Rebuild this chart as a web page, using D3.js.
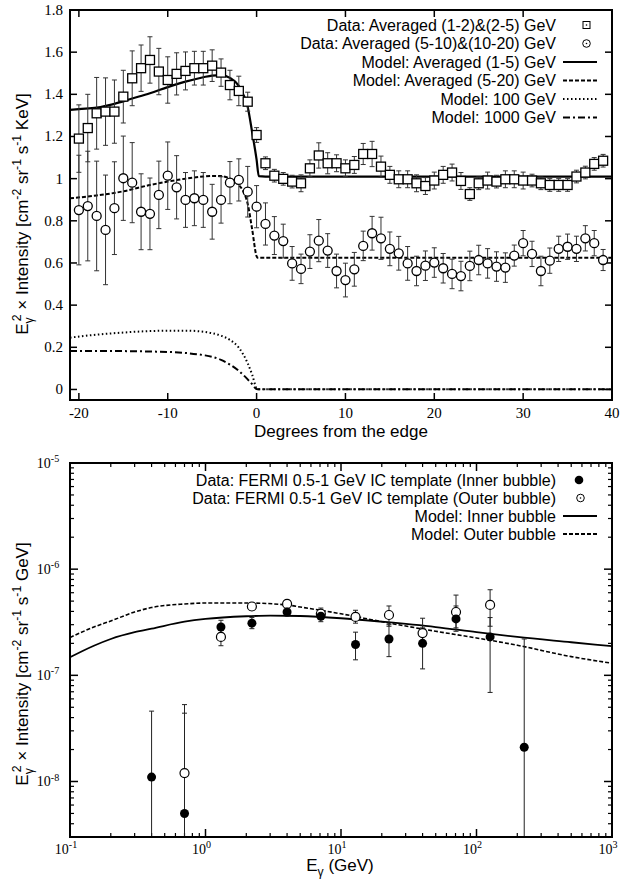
<!DOCTYPE html>
<html>
<head>
<meta charset="utf-8">
<script src="https://cdn.jsdelivr.net/npm/d3@7"></script>
<style>
body { margin: 0; background: #fff; }
text { fill: #000; }
</style>
</head>
<body>
<svg id="chart" width="622" height="884"></svg>
<script>
// ---------- top panel data: profile across the bubble edge ----------
var degrees = [-20,-19,-18,-17,-16,-15,-14,-13,-12,-11,-10,-9,-8,-7,-6,-5,-4,-3,-2,-1,
  0,1,2,3,4,5,6,7,8,9,10,11,12,13,14,15,16,17,18,19,
  20,21,22,23,24,25,26,27,28,29,30,31,32,33,34,35,36,37,38,39];

var lowVals = [1.19,1.24,1.31,1.318,1.318,1.389,1.476,1.524,1.563,1.508,1.468,1.497,1.511,1.524,1.524,1.536,1.503,1.444,1.416,1.365,
  1.207,1.073,1.014,0.999,0.986,0.978,1.049,1.11,1.073,1.073,1.049,1.065,1.117,1.117,1.057,1.018,0.997,0.997,0.978,0.965,
  0.991,1.018,1.029,0.989,0.927,0.978,0.991,0.986,0.997,0.997,0.991,0.991,0.978,0.970,0.970,0.970,1.010,1.029,1.070,1.085];
var lowErr = [0.16,0.16,0.17,0.16,0.15,0.125,0.13,0.11,0.11,0.11,0.11,0.1,0.09,0.08,0.08,0.075,0.065,0.07,0.07,0.045,
  0.035,0.03,0.03,0.03,0.03,0.04,0.04,0.06,0.05,0.04,0.04,0.04,0.05,0.06,0.05,0.04,0.04,0.04,0.04,0.04,
  0.04,0.04,0.04,0.04,0.03,0.03,0.04,0.03,0.04,0.04,0.04,0.03,0.03,0.03,0.03,0.03,0.03,0.03,0.03,0.03];

var highVals = [0.851,0.870,0.823,0.757,0.860,1.002,0.981,0.843,0.833,0.923,1.014,0.959,0.899,0.907,0.899,0.843,0.899,0.981,0.994,0.938,
  0.867,0.785,0.730,0.704,0.598,0.572,0.654,0.706,0.659,0.562,0.519,0.570,0.681,0.741,0.717,0.667,0.646,0.598,0.562,0.587,
  0.602,0.575,0.548,0.538,0.586,0.614,0.598,0.583,0.578,0.635,0.694,0.643,0.562,0.611,0.667,0.677,0.667,0.717,0.694,0.614];
var highErr = [0.26,0.26,0.26,0.26,0.22,0.2,0.19,0.18,0.17,0.16,0.16,0.15,0.13,0.13,0.13,0.13,0.11,0.1,0.1,0.12,
  0.1,0.1,0.09,0.08,0.08,0.07,0.08,0.1,0.08,0.08,0.08,0.08,0.07,0.08,0.1,0.08,0.08,0.08,0.07,0.07,
  0.07,0.07,0.07,0.07,0.07,0.07,0.07,0.07,0.07,0.05,0.06,0.06,0.07,0.06,0.06,0.06,0.06,0.06,0.06,0.05];

// model curves [degree, value]
var model1to5 = [[-21,1.326],[-20,1.33],[-18,1.337],[-16,1.355],[-14,1.38],[-12,1.405],[-10,1.434],[-8,1.46],[-6,1.481],
  [-5,1.489],[-4,1.491],[-3,1.478],[-2,1.44],[-1.5,1.40],[-1,1.34],[-0.5,1.22],[0,1.09],[0.25,1.012],[1,1.01],[40,1.01]];
var model5to20 = [[-21,0.907],[-18,0.92],[-15,0.94],[-12,0.97],[-10,0.986],[-8,1.0],[-6,1.01],[-5,1.013],[-4,1.012],
  [-3,1.0],[-2,0.97],[-1.5,0.94],[-1,0.88],[-0.5,0.76],[0,0.632],[0.1,0.625],[1,0.625],[40,0.625]];
var model100 = [[-21,0.246],[-18,0.26],[-15,0.27],[-12,0.277],[-10,0.279],[-8,0.279],[-6,0.274],[-5,0.267],[-4,0.255],
  [-3,0.235],[-2,0.198],[-1,0.124],[-0.5,0.07],[0,0.006],[0.2,0.001],[1,0.001],[40,0.001]];
var model1000 = [[-21,0.183],[-18,0.183],[-15,0.182],[-12,0.18],[-10,0.178],[-8,0.173],[-6,0.163],[-5,0.155],[-4,0.14],
  [-3,0.118],[-2,0.088],[-1,0.048],[-0.5,0.025],[0,0.002],[0.2,0.001],[1,0.001],[40,0.001]];

var topYTicks = [0, 0.2, 0.4, 0.6, 0.8, 1, 1.2, 1.4, 1.6, 1.8];
var topXTicks = [-20, -10, 0, 10, 20, 30, 40];

// ---------- bottom panel data: spectrum ----------
var energies = [0.4, 0.7, 1.3, 2.2, 4.0, 7.1, 12.8, 22.6, 40, 70.6, 126, 225];
var innerVals = [1.1e-8, 5e-9, 2.85e-7, 3.1e-7, 3.95e-7, 3.6e-7, 1.95e-7, 2.2e-7, 2.0e-7, 3.4e-7, 2.3e-7, 2.1e-8];
var innerLo   = [1e-10, 1e-10, 2.5e-7, 2.75e-7, 3.6e-7, 3.2e-7, 1.4e-7, 1.5e-7, 1.15e-7, 2.6e-7, 6.9e-8, 1e-10];
var innerHi   = [4.6e-8, 4.4e-8, 3.3e-7, 3.5e-7, 4.3e-7, 4.1e-7, 2.55e-7, 3.0e-7, 2.8e-7, 4.5e-7, 3.5e-7, 2.2e-7];

var outerEnergies = [0.7, 1.3, 2.2, 4.0, 7.1, 12.8, 22.6, 40, 70.6, 126];
var outerVals = [1.2e-8, 2.3e-7, 4.45e-7, 4.7e-7, 3.8e-7, 3.55e-7, 3.7e-7, 2.5e-7, 3.95e-7, 4.6e-7];
var outerLo   = [1e-10, 1.9e-7, 4.1e-7, 4.35e-7, 3.4e-7, 3.1e-7, 2.9e-7, 1.9e-7, 2.8e-7, 2.9e-7];
var outerHi   = [5.3e-8, 2.7e-7, 4.8e-7, 5.0e-7, 4.3e-7, 4.1e-7, 4.5e-7, 3.45e-7, 5.7e-7, 6.4e-7];

var modelInner = [[0.1,1.48e-7],[0.15,1.9e-7],[0.2,2.2e-7],[0.3,2.55e-7],[0.4,2.75e-7],[0.7,3.2e-7],[1,3.4e-7],
  [2,3.6e-7],[3,3.65e-7],[5,3.62e-7],[10,3.45e-7],[20,3.2e-7],[50,2.85e-7],[100,2.55e-7],[200,2.3e-7],[500,2.05e-7],[1000,1.88e-7]];
var modelOuter = [[0.1,2.27e-7],[0.15,2.85e-7],[0.2,3.25e-7],[0.3,3.95e-7],[0.4,4.35e-7],[0.7,4.7e-7],[1,4.8e-7],
  [2,4.8e-7],[4,4.6e-7],[5,4.4e-7],[10,3.8e-7],[20,3.2e-7],[50,2.6e-7],[100,2.25e-7],[200,1.92e-7],[500,1.5e-7],[1000,1.3e-7]];

var botXTicks = [-1, 0, 1, 2, 3];   // exponents
var botYTicks = [-8, -7, -6, -5];

var svg = d3.select('#chart');

var serif = '"Liberation Serif", "Times New Roman", serif';
var sans = '"Liberation Sans", Arial, Helvetica, sans-serif';

// text with sup / sub parts
function richText(sel, parts, size) {
  var cur = 0;
  parts.forEach(function(p) {
    var kind = p[1] || 'n';
    var target = kind === 'sup' ? -size * 0.42 : kind === 'sub' ? size * 0.32 : 0;
    var t = sel.append('tspan')
      .attr('dy', target - cur)
      .style('font-size', (kind === 'n' ? size : size * 0.72) + 'px')
      .text(p[0]);
    if (p[2]) t.attr('dx', p[2]);
    cur = target;
  });
}

function errBars(g, xs, lo, hi, xsc, ysc, cap, color) {
  xs.forEach(function(x, i) {
    var y1 = ysc(lo[i]), y2 = ysc(hi[i]), px = xsc(x);
    g.append('line').attr('x1', px).attr('x2', px).attr('y1', y1).attr('y2', y2).attr('stroke', color).attr('stroke-width', 1);
    [y1, y2].forEach(function(yy) {
      g.append('line').attr('x1', px - cap).attr('x2', px + cap).attr('y1', yy).attr('y2', yy).attr('stroke', color).attr('stroke-width', 1);
    });
  });
}

// ================= TOP PANEL =================
var T = {l: 70, r: 612, t: 10, b: 400};
var tx = d3.scaleLinear().domain([-21, 40]).range([T.l, T.r]);
var ty = d3.scaleLinear().domain([-0.05, 1.8]).range([T.b, T.t]);

var topPanel = svg.append('g');
topPanel.append('clipPath').attr('id', 'clipTop')
  .append('rect').attr('x', T.l).attr('y', T.t).attr('width', T.r - T.l).attr('height', T.b - T.t);

// ticks (inside, mirrored)
topYTicks.forEach(function(v) {
  topPanel.append('line').attr('x1', T.l).attr('x2', T.l + 7).attr('y1', ty(v)).attr('y2', ty(v)).attr('stroke', '#000').attr('stroke-width', 1.5);
  topPanel.append('line').attr('x1', T.r).attr('x2', T.r - 7).attr('y1', ty(v)).attr('y2', ty(v)).attr('stroke', '#000').attr('stroke-width', 1.5);
  topPanel.append('text').attr('x', T.l - 7).attr('y', ty(v) + 5)
    .attr('text-anchor', 'end').style('font-family', serif).style('font-size', '15px').text(v);
});
topXTicks.forEach(function(v) {
  topPanel.append('line').attr('x1', tx(v)).attr('x2', tx(v)).attr('y1', T.b).attr('y2', T.b - 7).attr('stroke', '#000').attr('stroke-width', 1.5);
  topPanel.append('line').attr('x1', tx(v)).attr('x2', tx(v)).attr('y1', T.t).attr('y2', T.t + 7).attr('stroke', '#000').attr('stroke-width', 1.5);
  topPanel.append('text').attr('x', tx(v)).attr('y', T.b + 18)
    .attr('text-anchor', 'middle').style('font-family', serif).style('font-size', '15px').text(v);
});

var plotTop = topPanel.append('g').attr('clip-path', 'url(#clipTop)');

var lineT = d3.line().x(function(d) { return tx(d[0]); }).y(function(d) { return ty(d[1]); }).curve(d3.curveMonotoneX);

var topModels = [
  {data: model1to5, dash: null, w: 2.2},
  {data: model5to20, dash: '4,2', w: 2},
  {data: model100, dash: '1.5,2.5', w: 2},
  {data: model1000, dash: '7,3,2,3', w: 2}
];
topModels.forEach(function(m) {
  plotTop.append('path').datum(m.data).attr('d', lineT)
    .attr('fill', 'none').attr('stroke', '#000').attr('stroke-width', m.w)
    .attr('stroke-dasharray', m.dash);
});

errBars(plotTop, degrees,
  lowVals.map(function(v, i) { return v - lowErr[i]; }),
  lowVals.map(function(v, i) { return v + lowErr[i]; }), tx, ty, 2.5, '#333');
errBars(plotTop, degrees,
  highVals.map(function(v, i) { return v - highErr[i]; }),
  highVals.map(function(v, i) { return v + highErr[i]; }), tx, ty, 2.5, '#333');

plotTop.selectAll('.sq').data(degrees).enter().append('rect')
  .attr('class', 'sq')
  .attr('x', function(d) { return tx(d) - 4.5; })
  .attr('y', function(d, i) { return ty(lowVals[i]) - 4.5; })
  .attr('width', 9).attr('height', 9)
  .attr('fill', '#fff').attr('stroke', '#000').attr('stroke-width', 1.3);

plotTop.selectAll('.ci').data(degrees).enter().append('circle')
  .attr('class', 'ci')
  .attr('cx', function(d) { return tx(d); })
  .attr('cy', function(d, i) { return ty(highVals[i]); })
  .attr('r', 4.5)
  .attr('fill', '#fff').attr('stroke', '#000').attr('stroke-width', 1.3);

topPanel.append('rect').attr('x', T.l).attr('y', T.t).attr('width', T.r - T.l).attr('height', T.b - T.t)
  .attr('fill', 'none').attr('stroke', '#000').attr('stroke-width', 2);

// legend
var topLegend = [
  {label: 'Data: Averaged (1-2)&(2-5) GeV', sym: 'sq'},
  {label: 'Data: Averaged (5-10)&(10-20) GeV', sym: 'ci'},
  {label: 'Model: Averaged (1-5) GeV', dash: null},
  {label: 'Model: Averaged (5-20) GeV', dash: '4,2'},
  {label: 'Model: 100 GeV', dash: '1.5,2.5'},
  {label: 'Model: 1000 GeV', dash: '7,3,2,3'}
];
topLegend.forEach(function(d, i) {
  var y = 25 + i * 18.5;
  topPanel.append('text').attr('x', 556).attr('y', y + 5.5).attr('text-anchor', 'end')
    .style('font-family', sans).style('font-size', '16px').text(d.label);
  if (d.sym === 'sq') {
    topPanel.append('rect').attr('x', 583).attr('y', y - 3.5).attr('width', 7).attr('height', 7)
      .attr('fill', 'none').attr('stroke', '#000').attr('stroke-width', 1);
    topPanel.append('circle').attr('cx', 586.5).attr('cy', y).attr('r', 0.8).attr('fill', '#000');
  } else if (d.sym === 'ci') {
    topPanel.append('circle').attr('cx', 586.5).attr('cy', y).attr('r', 3.8)
      .attr('fill', 'none').attr('stroke', '#000').attr('stroke-width', 1);
    topPanel.append('circle').attr('cx', 586.5).attr('cy', y).attr('r', 0.8).attr('fill', '#000');
  } else {
    topPanel.append('line').attr('x1', 563).attr('x2', 597).attr('y1', y).attr('y2', y)
      .attr('stroke', '#000').attr('stroke-width', 2).attr('stroke-dasharray', d.dash);
  }
});

// axis titles
topPanel.append('text').attr('x', 341).attr('y', 437).attr('text-anchor', 'middle')
  .style('font-family', sans).style('font-size', '17px').text('Degrees from the edge');

var tyl = topPanel.append('text').attr('text-anchor', 'middle')
  .attr('transform', 'translate(' + [28, 214] + ') rotate(-90)')
  .style('font-family', sans).style('font-size', '17px');
richText(tyl, [['E'], ['γ', 'sub'], ['2', 'sup', -4], [' × Intensity [cm'], ['-2', 'sup'], [' sr'], ['-1', 'sup'], [' s'], ['-1', 'sup'], [' KeV]']], 17);

// ================= BOTTOM PANEL =================
var B = {l: 70, r: 612, t: 463, b: 837};
var bx = d3.scaleLog().domain([0.1, 1000]).range([B.l, B.r]);
var by = d3.scaleLog().domain([3e-9, 1e-5]).range([B.b, B.t]);

var botPanel = svg.append('g');
botPanel.append('clipPath').attr('id', 'clipBot')
  .append('rect').attr('x', B.l).attr('y', B.t).attr('width', B.r - B.l).attr('height', B.b - B.t);

// minor + major ticks
botXTicks.forEach(function(e) {
  var v = Math.pow(10, e);
  botPanel.append('line').attr('x1', bx(v)).attr('x2', bx(v)).attr('y1', B.b).attr('y2', B.b - 8).attr('stroke', '#000').attr('stroke-width', 1.5);
  botPanel.append('line').attr('x1', bx(v)).attr('x2', bx(v)).attr('y1', B.t).attr('y2', B.t + 8).attr('stroke', '#000').attr('stroke-width', 1.5);
  var t = botPanel.append('text').attr('x', bx(v) - 4).attr('y', B.b + 17).attr('text-anchor', 'middle')
    .style('font-family', serif).style('font-size', '14px');
  richText(t, [['10'], [String(e), 'sup']], 14);
  if (e < 3) {
    [2, 3, 4, 5, 6, 7, 8, 9].forEach(function(k) {
      var m = k * v;
      botPanel.append('line').attr('x1', bx(m)).attr('x2', bx(m)).attr('y1', B.b).attr('y2', B.b - 4).attr('stroke', '#000').attr('stroke-width', 1.2);
      botPanel.append('line').attr('x1', bx(m)).attr('x2', bx(m)).attr('y1', B.t).attr('y2', B.t + 4).attr('stroke', '#000').attr('stroke-width', 1.2);
    });
  }
});
botYTicks.forEach(function(e) {
  var v = Math.pow(10, e);
  botPanel.append('line').attr('x1', B.l).attr('x2', B.l + 8).attr('y1', by(v)).attr('y2', by(v)).attr('stroke', '#000').attr('stroke-width', 1.5);
  botPanel.append('line').attr('x1', B.r).attr('x2', B.r - 8).attr('y1', by(v)).attr('y2', by(v)).attr('stroke', '#000').attr('stroke-width', 1.5);
  var t = botPanel.append('text').attr('x', B.l - 22).attr('y', by(v) + 5).attr('text-anchor', 'middle')
    .style('font-family', serif).style('font-size', '14px');
  richText(t, [['10'], [String(e), 'sup']], 14);
  [2, 3, 4, 5, 6, 7, 8, 9].forEach(function(k) {
    var m = k * v / 10;
    if (m < 3e-9 || m > 1e-5) return;
    botPanel.append('line').attr('x1', B.l).attr('x2', B.l + 4).attr('y1', by(m)).attr('y2', by(m)).attr('stroke', '#000').attr('stroke-width', 1.2);
    botPanel.append('line').attr('x1', B.r).attr('x2', B.r - 4).attr('y1', by(m)).attr('y2', by(m)).attr('stroke', '#000').attr('stroke-width', 1.2);
  });
});

var plotBot = botPanel.append('g').attr('clip-path', 'url(#clipBot)');

var lineB = d3.line().x(function(d) { return bx(d[0]); }).y(function(d) { return by(d[1]); }).curve(d3.curveMonotoneX);
plotBot.append('path').datum(modelInner).attr('d', lineB)
  .attr('fill', 'none').attr('stroke', '#000').attr('stroke-width', 1.8);
plotBot.append('path').datum(modelOuter).attr('d', lineB)
  .attr('fill', 'none').attr('stroke', '#000').attr('stroke-width', 1.6).attr('stroke-dasharray', '4,2');

errBars(plotBot, outerEnergies, outerLo, outerHi, bx, by, 2.5, '#222');
errBars(plotBot, energies, innerLo, innerHi, bx, by, 2.5, '#222');

plotBot.selectAll('.oc').data(outerEnergies).enter().append('circle')
  .attr('cx', function(d) { return bx(d); })
  .attr('cy', function(d, i) { return by(outerVals[i]); })
  .attr('r', 4.5).attr('fill', '#fff').attr('stroke', '#000').attr('stroke-width', 1.2);
plotBot.selectAll('.fc').data(energies).enter().append('circle')
  .attr('cx', function(d) { return bx(d); })
  .attr('cy', function(d, i) { return by(innerVals[i]); })
  .attr('r', 4.5).attr('fill', '#000');

botPanel.append('rect').attr('x', B.l).attr('y', B.t).attr('width', B.r - B.l).attr('height', B.b - B.t)
  .attr('fill', 'none').attr('stroke', '#000').attr('stroke-width', 2);

var botLegend = [
  {label: 'Data: FERMI 0.5-1 GeV IC template (Inner bubble)', sym: 'fc'},
  {label: 'Data: FERMI 0.5-1 GeV IC template (Outer bubble)', sym: 'oc'},
  {label: 'Model: Inner bubble', dash: null},
  {label: 'Model: Outer bubble', dash: '4,2'}
];
botLegend.forEach(function(d, i) {
  var y = 480 + i * 18;
  botPanel.append('text').attr('x', 556).attr('y', y + 5.5).attr('text-anchor', 'end')
    .style('font-family', sans).style('font-size', '16px').text(d.label);
  if (d.sym === 'fc') {
    botPanel.append('circle').attr('cx', 579).attr('cy', y).attr('r', 4.3).attr('fill', '#000');
  } else if (d.sym === 'oc') {
    botPanel.append('circle').attr('cx', 580.5).attr('cy', y).attr('r', 3.8)
      .attr('fill', 'none').attr('stroke', '#000').attr('stroke-width', 1);
    botPanel.append('circle').attr('cx', 580.5).attr('cy', y).attr('r', 0.8).attr('fill', '#000');
  } else {
    botPanel.append('line').attr('x1', 563).attr('x2', 597).attr('y1', y).attr('y2', y)
      .attr('stroke', '#000').attr('stroke-width', 1.8).attr('stroke-dasharray', d.dash);
  }
});

var bxl = botPanel.append('text').attr('x', 340).attr('y', 871).attr('text-anchor', 'middle')
  .style('font-family', sans).style('font-size', '17px');
richText(bxl, [['E'], ['γ', 'sub'], [' (GeV)']], 17);

var byl = botPanel.append('text').attr('text-anchor', 'middle')
  .attr('transform', 'translate(' + [28, 664] + ') rotate(-90)')
  .style('font-family', sans).style('font-size', '17px');
richText(byl, [['E'], ['γ', 'sub'], ['2', 'sup', -4], [' × Intensity [cm'], ['-2', 'sup'], [' sr'], ['-1', 'sup'], [' s'], ['-1', 'sup'], [' GeV]']], 17);
</script>
</body>
</html>
